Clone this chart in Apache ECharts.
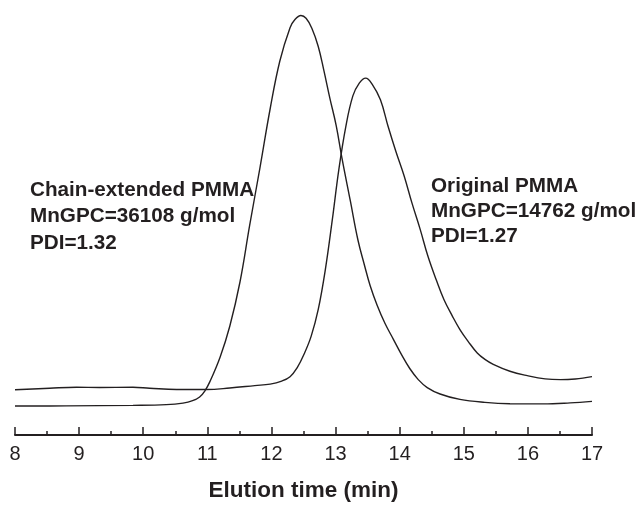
<!DOCTYPE html>
<html>
<head>
<meta charset="utf-8">
<script src="https://cdn.jsdelivr.net/npm/echarts@6/dist/echarts.min.js"></script>
<style>
html,body{margin:0;padding:0;background:#fff;}
#chart{width:639px;height:507px;}
</style>
</head>
<body>
<div id="chart"></div>
<script>
// Elution time (min) and detector signal (arbitrary units, 0-100)
var chainTime   = [8.00, 8.80, 9.84, 10.36, 10.62, 10.77, 10.88, 10.96, 11.04, 11.20, 11.35, 11.51, 11.66, 11.82, 11.98, 12.13, 12.29, 12.37, 12.46, 12.54, 12.63, 12.73, 12.82, 12.91, 13.01, 13.10, 13.23, 13.35, 13.45, 13.54, 13.65, 13.77, 13.90, 14.04, 14.16, 14.29, 14.43, 14.63, 14.94, 15.33, 15.72, 16.24, 16.66, 17.00];
var chainSignal = [6.66, 6.70, 6.82, 6.98, 7.34, 7.89, 8.75, 10.11, 12.27, 17.95, 25.00, 35.23, 48.18, 61.36, 75.00, 85.91, 93.64, 95.57, 96.43, 95.80, 93.52, 89.32, 83.64, 77.50, 71.14, 63.64, 53.86, 44.77, 39.09, 34.32, 29.77, 25.68, 22.05, 18.18, 15.23, 12.73, 10.91, 9.43, 8.18, 7.50, 7.20, 7.16, 7.39, 7.73];

var origTime   = [8.00, 8.54, 8.96, 9.32, 9.84, 10.10, 10.52, 10.99, 11.35, 11.74, 11.98, 12.16, 12.29, 12.40, 12.51, 12.62, 12.73, 12.84, 12.95, 13.05, 13.16, 13.27, 13.37, 13.47, 13.57, 13.70, 13.82, 13.94, 14.07, 14.19, 14.32, 14.44, 14.57, 14.69, 14.82, 14.94, 15.07, 15.21, 15.33, 15.46, 15.72, 15.99, 16.27, 16.51, 16.74, 17.00];
var origSignal = [10.39, 10.75, 10.98, 10.91, 10.98, 10.75, 10.45, 10.45, 10.80, 11.36, 11.70, 12.39, 13.41, 15.45, 18.64, 22.73, 28.86, 37.95, 49.55, 60.91, 70.91, 77.95, 80.91, 82.05, 80.68, 77.05, 70.91, 65.23, 59.55, 53.41, 47.27, 41.14, 35.68, 31.14, 27.39, 24.25, 21.48, 18.86, 17.39, 16.25, 14.66, 13.64, 12.89, 12.73, 12.89, 13.41];

var xTickMin = 8, xTickMax = 17, xTickStep = 1;

var chainLabel = ['Chain-extended PMMA', 'MnGPC=36108 g/mol', 'PDI=1.32'];
var origLabel  = ['Original PMMA', 'MnGPC=14762 g/mol', 'PDI=1.27'];
var xAxisTitle = 'Elution time (min)';

function pairs(xs, ys) { return xs.map(function (x, i) { return [x, ys[i]]; }); }

var ink = '#231f20';
var font = '"Liberation Sans", Arial, Helvetica, sans-serif';

var chart = echarts.init(document.getElementById('chart'), null, {renderer: 'canvas'});
chart.setOption({
  animation: false,
  backgroundColor: '#ffffff',
  grid: {left: 15, right: 47, top: 0, bottom: 67, containLabel: false},
  xAxis: {
    type: 'value', min: xTickMin, max: xTickMax, interval: xTickStep,
    axisLine: {show: true, onZero: false, lineStyle: {color: ink, width: 2}},
    axisTick: {show: true, inside: true, length: 8, lineStyle: {color: ink, width: 1.5}},
    minorTick: {show: true, splitNumber: 2, length: 4, lineStyle: {color: ink, width: 1.5}},
    axisLabel: {color: ink, fontSize: 20, fontFamily: font, margin: 9},
    splitLine: {show: false},
    name: xAxisTitle, nameLocation: 'middle', nameGap: 44,
    nameTextStyle: {color: ink, fontSize: 22.5, fontWeight: 'bold', fontFamily: font}
  },
  yAxis: {type: 'value', min: 0, max: 100, show: false, splitLine: {show: false}},
  series: [
    {type: 'line', name: 'Chain-extended PMMA', data: pairs(chainTime, chainSignal), showSymbol: false, smooth: 0.4, lineStyle: {color: ink, width: 1.4}},
    {type: 'line', name: 'Original PMMA', data: pairs(origTime, origSignal), showSymbol: false, smooth: 0.4, lineStyle: {color: ink, width: 1.4}}
  ],
  graphic: [
    {type: 'text', left: 30, top: 177, style: {text: chainLabel.join('\n'), fill: ink, font: 'bold 20.7px ' + font, lineHeight: 26.5}},
    {type: 'text', left: 431, top: 174, style: {text: origLabel.join('\n'), fill: ink, font: 'bold 20.7px ' + font, lineHeight: 25}}
  ]
});
</script>
</body>
</html>
